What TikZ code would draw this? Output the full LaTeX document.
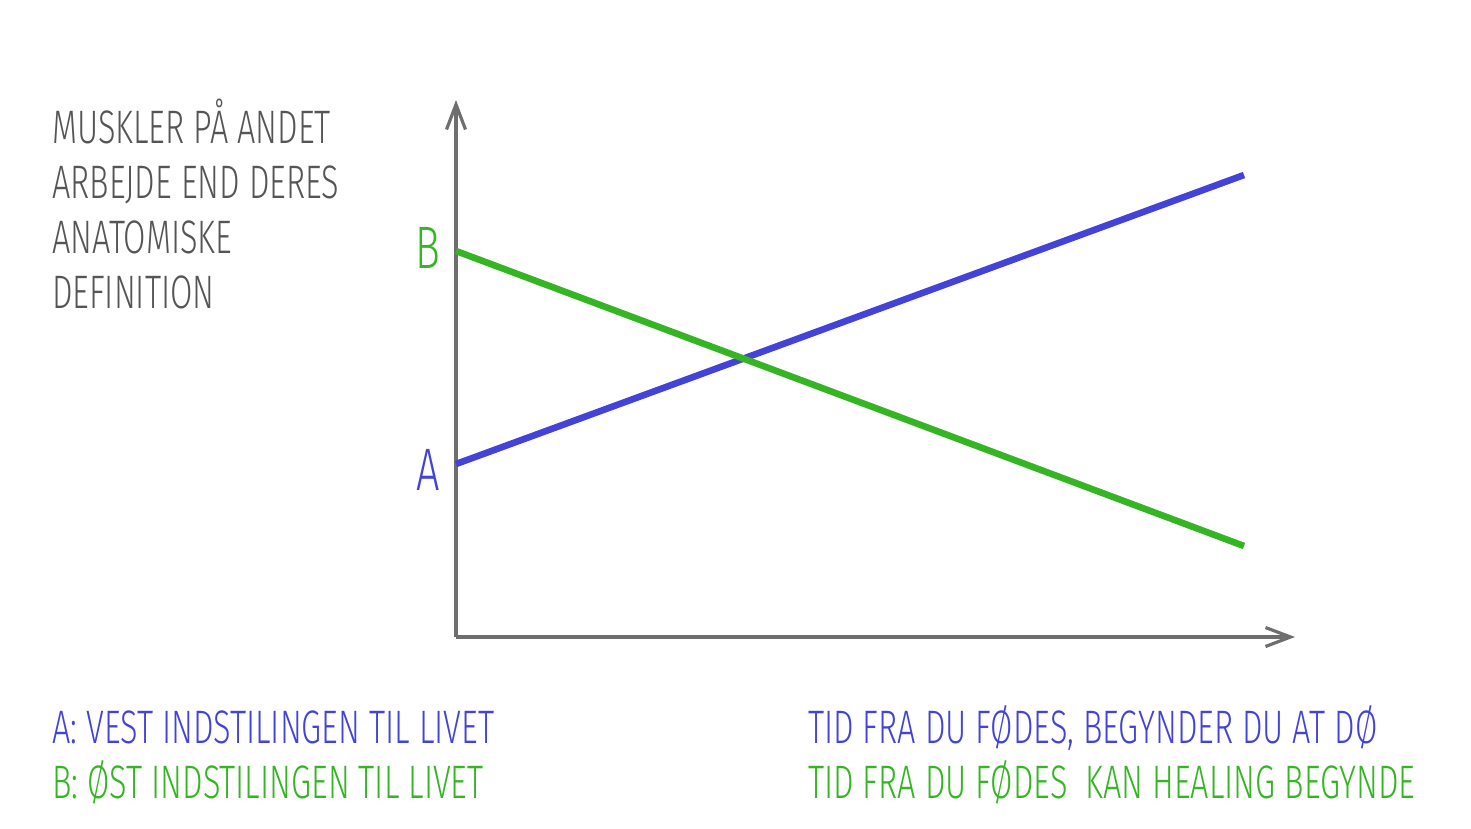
\documentclass[tikz,border=0pt]{standalone}
\usepackage{fontspec}
\setmainfont{Fira Sans}[UprightFont=* Light, FakeStretch=0.69]
\usetikzlibrary{arrows.meta}
\definecolor{axisgray}{HTML}{6E6E6E}
\definecolor{textgray}{HTML}{555555}
\definecolor{lineblue}{HTML}{4343D9}
\definecolor{linegreen}{HTML}{35B523}

\begin{document}
\begin{tikzpicture}[
  x=1pt, y=-1pt,
  axis/.style = {draw=axisgray, line width=3.2pt, -{Straight Barb[length=25pt,width=19pt,line width=3.2pt]}},
  trend/.style = {line width=6.6pt},
  every node/.style = {inner sep=0pt, anchor=base west},
  label/.style = {font=\fontsize{47}{55}\selectfont},
  endlabel/.style = {font=\fontsize{60}{60}\selectfont, anchor=base east}
]
  \useasboundingbox (0,0) rectangle (1471,828);
  % axes
  \coordinate (O) at (456,637);
  \coordinate (ytop) at (456,100);
  \coordinate (xend) at (1295,637);
  \draw[axis] (O) -- (ytop);
  \draw[axis] (O) -- (xend);
  % trend lines
  \coordinate (a0) at (456,464);
  \coordinate (a1) at (1244,175);
  \coordinate (b0) at (456,251);
  \coordinate (b1) at (1244,546);
  \draw[trend, draw=lineblue] (a0) -- (a1);
  \draw[trend, draw=linegreen] (b0) -- (b1);
  \node[endlabel, text=linegreen] (Blab) at (440,268) {B};
  \node[endlabel, text=lineblue] (Alab) at (440,490) {A};
  % y axis caption
  \node[label, text=textgray, align=left, anchor=north west] (ycap) at (52,99)
    {MUSKLER PÅ ANDET\\ARBEJDE END DERES\\ANATOMISKE\\DEFINITION};
  % legend
  \node[label, text=lineblue] (legA) at (52,743) {A: VEST INDSTILINGEN TIL LIVET};
  \node[label, text=linegreen] (legB) at (52,798) {B: ØST INDSTILINGEN TIL LIVET};
  \node[label, text=lineblue] (timeA) at (808,743) {TID FRA DU FØDES, BEGYNDER DU AT DØ};
  \node[label, text=linegreen] (timeB) at (808,798) {TID FRA DU FØDES\ \ KAN HEALING BEGYNDE};
\end{tikzpicture}
\end{document}
